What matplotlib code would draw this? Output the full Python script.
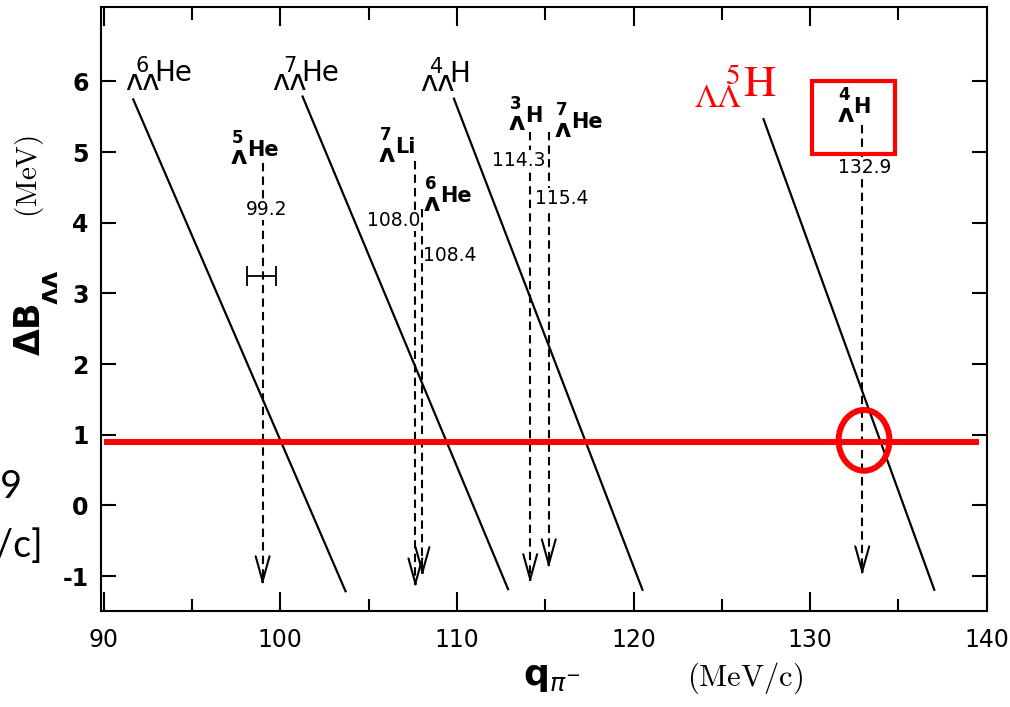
import matplotlib
matplotlib.use("Agg")
import matplotlib.pyplot as plt
from matplotlib.patches import Rectangle, Ellipse

plt.rcParams["font.family"] = "DejaVu Sans"
plt.rcParams["axes.unicode_minus"] = False

# double-lambda hypernuclei: straight lines  dB_LL vs q_pi-
dbl_mass = [6, 7, 4, 5]
dbl_elem = ["He", "He", "H", "H"]
dbl_q_top = [91.65, 101.24, 109.81, 127.34]
dbl_b_top = [5.76, 5.80, 5.77, 5.48]
dbl_q_bot = [103.72, 112.92, 120.53, 137.05]
dbl_b_bot = [-1.23, -1.20, -1.21, -1.21]
dbl_lbl_q = [91.2, 99.56, 107.9, 123.46]
dbl_lbl_b = [6.01, 6.01, 5.99, 5.80]

# single-lambda decay lines (dashed arrows)
sgl_mass = [5, 7, 6, 3, 7, 4]
sgl_elem = ["He", "Li", "He", "H", "He", "H"]
sgl_lbl_q = [97.19, 105.58, 108.12, 112.91, 115.56, 131.53]
sgl_lbl_b = [4.95, 4.98, 4.29, 5.43, 5.34, 5.55]
arrow_q = [99.0, 107.65, 108.05, 114.15, 115.2, 132.95]
arrow_top = [4.84, 4.88, 4.2, 5.28, 5.28, 5.38]
arrow_tip = [-1.13, -1.16, -1.0, -1.1, -0.89, -0.99]
q_text = ["99.2", "108.0", "108.4", "114.3", "115.4", "132.9"]
q_text_q = [99.22, 106.43, 109.6, 113.48, 115.91, 133.11]
q_text_b = [4.19, 4.03, 3.54, 4.88, 4.34, 4.78]
q_text_gap = [True, True, False, True, True, True]

# error bar on the 5He line
err_q, err_b, err_dq = 98.95, 3.24, 0.82

# red overlay: cut line, circle and box
cut_b = 0.9
cut_q = [90.2, 139.4]
ring_q, ring_b = 133.05, 0.92
box_q = [130.12, 134.80]
box_b = [4.97, 6.0]


def put_nuclide(ax, q, b, mass, lam, elem, sizes, lam_dy, mass_dx, mass_dy,
                elem_dx, mass_ha="left", **kw):
    # element symbol with the mass number on top and the lambdas below, drawn
    # as three texts so the script sizes can follow the original
    lam_size, mass_size, elem_size = sizes
    ax.annotate(lam, (q, b), xytext=(0, lam_dy), textcoords="offset points",
                fontsize=lam_size, ha="left", va="baseline", **kw)
    ax.annotate(str(mass), (q, b), xytext=(mass_dx, mass_dy),
                textcoords="offset points", fontsize=mass_size, ha=mass_ha,
                va="baseline", **kw)
    ax.annotate(elem, (q, b), xytext=(elem_dx, 0), textcoords="offset points",
                fontsize=elem_size, ha="left", va="baseline", **kw)


def make_figure():
    fig = plt.figure(figsize=(10.1, 7.07), dpi=100)
    ax = fig.add_axes([0.1, 0.1358, 0.877, 0.854])
    ax.set_xlim(89.85, 139.82)
    ax.set_ylim(-1.495, 7.05)

    for sp in ax.spines.values():
        sp.set_linewidth(1.5)

    ax.set_xticks(range(90, 141, 10))
    ax.set_xticks(range(95, 140, 10), minor=True)
    ax.set_yticks(range(-1, 7))
    ax.tick_params(which="both", direction="in", top=True, right=True, width=1.5)
    ax.tick_params(axis="x", which="major", length=14, labelsize=17, pad=12)
    ax.tick_params(axis="x", which="minor", length=9)
    ax.tick_params(axis="y", which="major", length=11, labelsize=17, pad=9)
    for t in ax.get_yticklabels():
        t.set_fontweight("bold")

    # double-lambda lines and labels
    for i in range(len(dbl_mass)):
        ax.plot([dbl_q_top[i], dbl_q_bot[i]], [dbl_b_top[i], dbl_b_bot[i]],
                color="k", lw=1.6, solid_capstyle="butt")
        if i < 3:
            put_nuclide(ax, dbl_lbl_q[i], dbl_lbl_b[i], dbl_mass[i], "ʌʌ",
                        dbl_elem[i], (21, 15, 20), -6.5, 7.5, 6.5, 21)
        else:
            put_nuclide(ax, dbl_lbl_q[i], dbl_lbl_b[i], dbl_mass[i], "ΛΛ",
                        dbl_elem[i], (24, 21, 32), -8.6, 32.4, 8.6, 35,
                        mass_ha="right", color="red", family="STIXGeneral")

    # single-lambda dashed arrows
    for i in range(len(arrow_q)):
        ax.plot([arrow_q[i], arrow_q[i]], [arrow_top[i], arrow_tip[i] + 0.05],
                color="k", lw=1.5, linestyle=(0, (4, 2.5)))
        ax.annotate("", xy=(arrow_q[i], arrow_tip[i]),
                    xytext=(arrow_q[i], arrow_tip[i] + 0.06),
                    arrowprops=dict(arrowstyle="->,head_length=0.9,head_width=0.25",
                                    lw=1.5, color="k", shrinkA=0, shrinkB=0,
                                    mutation_scale=20))
        put_nuclide(ax, sgl_lbl_q[i], sgl_lbl_b[i], sgl_mass[i], "ʌ",
                    sgl_elem[i], (18, 12, 15), -6.2, 0.8, 9.4, 11.8,
                    fontweight="bold")
        box = None
        if q_text_gap[i]:
            box = dict(facecolor="white", edgecolor="none", pad=0.5)
        ax.text(q_text_q[i], q_text_b[i], q_text[i], fontsize=13.5,
                ha="center", va="center", bbox=box, zorder=5)

    ax.errorbar([err_q], [err_b], xerr=[err_dq], color="k", lw=1.3,
                capsize=7, capthick=1.3, fmt="none")

    # red overlay
    ax.plot(cut_q, [cut_b, cut_b], color="red", lw=4.3, zorder=6)
    ax.add_patch(Ellipse((ring_q, ring_b), 2.88, 0.86, fill=False,
                         ec="red", lw=4.3, zorder=7))
    ax.add_patch(Rectangle((box_q[0], box_b[0]), box_q[1] - box_q[0],
                           box_b[1] - box_b[0], fill=False, ec="red",
                           lw=3, zorder=7))

    # axis titles
    fig.text(0.0297, 0.536, "ΔB", fontsize=25, fontweight="bold",
             rotation=90, ha="center", va="center")
    fig.text(0.050, 0.594, "ʌʌ", fontsize=19, fontweight="bold",
             rotation=90, ha="center", va="center")
    fig.text(0.0297, 0.750, r"$\mathrm{(MeV)}$", fontsize=21, rotation=90,
             ha="center", va="center", math_fontfamily="cm")
    fig.text(0.546, 0.043, r"$\mathbf{q}_{\pi^{-}}$", fontsize=26,
             ha="center", va="center")
    fig.text(0.738, 0.041, r"$\mathrm{(MeV/c)}$", fontsize=22,
             ha="center", va="center", math_fontfamily="cm")

    # slide text cut off at the left edge
    fig.text(0.0228, 0.2956, "132.9", ha="right", va="baseline",
             fontsize=27, family="Lato")
    fig.text(0.0426, 0.2122, "[MeV/c]", ha="right", va="baseline",
             fontsize=27, family="Lato")

    fig.savefig("out.png", dpi=100)


def main():
    make_figure()


if __name__ == "__main__":
    main()
